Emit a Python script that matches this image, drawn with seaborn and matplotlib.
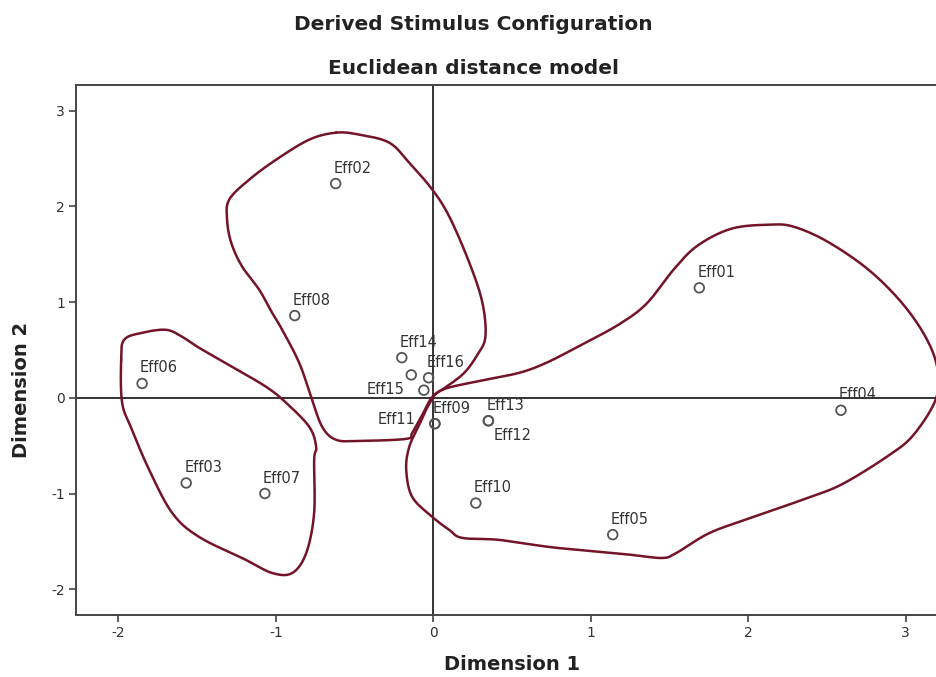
import numpy as np
import pandas as pd
import matplotlib
matplotlib.use("Agg")
import matplotlib.pyplot as plt
import seaborn as sns

# stimulus coordinates (Euclidean MDS solution)
stimuli = ["Eff01", "Eff02", "Eff03", "Eff04", "Eff05", "Eff06", "Eff07", "Eff08",
           "Eff09", "Eff10", "Eff11", "Eff12", "Eff13", "Eff14", "Eff15", "Eff16"]
dim1 = [1.69, -0.62, -1.57, 2.59, 1.14, -1.85, -1.07, -0.88,
        0.01, 0.27, 0.01, 0.35, 0.35, -0.20, -0.06, -0.03]
dim2 = [1.15, 2.24, -0.89, -0.13, -1.43, 0.15, -1.00, 0.86,
        -0.27, -1.10, -0.27, -0.24, -0.24, 0.42, 0.08, 0.21]
# one point in the plot carries no visible label
unlabeled_dim1 = [-0.14]
unlabeled_dim2 = [0.24]

# hand drawn cluster outlines (data coordinates)
group_a_x = [-1.983, -1.964, -1.850, -1.697, -1.596, -1.488, -1.278, -1.062, -0.935, -0.788,
             -0.744, -0.757, -0.757, -0.807, -0.896, -1.024, -1.189, -1.488, -1.659, -1.805,
             -1.914, -1.977]
group_a_y = [0.397, 0.607, 0.680, 0.711, 0.638, 0.523, 0.324, 0.115, -0.052, -0.303,
             -0.513, -0.649, -1.203, -1.621, -1.831, -1.831, -1.695, -1.454, -1.203, -0.753,
             -0.335, -0.052]

group_b_x = [-0.617, -0.470, -0.280, -0.153, -0.006, 0.102, 0.229, 0.312, 0.331, 0.280,
             0.197, 0.083, -0.006, -0.070, -0.134, -0.172, -0.470, -0.617, -0.706, -0.776,
             -0.852, -0.960, -1.024, -1.106, -1.214, -1.284, -1.310, -1.297, -1.170, -0.998,
             -0.788]
group_b_y = [2.772, 2.751, 2.667, 2.458, 2.176, 1.893, 1.412, 0.994, 0.638, 0.450,
             0.262, 0.115, 0.010, -0.178, -0.366, -0.429, -0.450, -0.439, -0.303, 0.010,
             0.366, 0.711, 0.889, 1.130, 1.370, 1.621, 1.862, 2.071, 2.280, 2.490,
             2.699]

group_c_x = [0.057, 0.331, 0.547, 0.718, 0.941, 1.176, 1.354, 1.526, 1.678, 1.894,
             2.136, 2.289, 2.505, 2.765, 2.982, 3.134, 3.204, 3.191, 3.051, 2.899,
             2.613, 2.397, 1.958, 1.742, 1.545, 1.456, 1.265, 1.055, 0.737, 0.420,
             0.184, 0.102, -0.006, -0.134, -0.172, -0.153, -0.089, -0.025]
group_c_y = [0.084, 0.188, 0.262, 0.366, 0.554, 0.764, 0.983, 1.339, 1.590, 1.768,
             1.810, 1.789, 1.632, 1.339, 0.983, 0.617, 0.293, -0.021, -0.387, -0.596,
             -0.889, -1.036, -1.287, -1.423, -1.621, -1.674, -1.642, -1.611, -1.559, -1.485,
             -1.464, -1.381, -1.245, -1.036, -0.753, -0.513, -0.282, -0.063]

tick_values = [-2, -1, 0, 1, 2, 3]

# label placement (pixel offsets) where SPSS moved a label off its default spot
label_spots = {"Eff11": ("right", -19, 0), "Eff15": ("right", -19, -4),
               "Eff12": ("left", 5, -19)}
default_spot = ("left", -2, 11)


def smooth_closed(xs, ys, n=16):
    # periodic catmull-rom through the traced vertices
    p = np.column_stack([xs, ys])
    m = len(p)
    out = []
    t = np.linspace(0, 1, n, endpoint=False)[:, None]
    for i in range(m):
        p0, p1, p2, p3 = p[i - 1], p[i], p[(i + 1) % m], p[(i + 2) % m]
        seg = 0.5 * ((2 * p1) + (-p0 + p2) * t + (2 * p0 - 5 * p1 + 4 * p2 - p3) * t ** 2
                     + (-p0 + 3 * p1 - 3 * p2 + p3) * t ** 3)
        out.append(seg)
    out.append(p[:1])
    out = np.vstack(out)
    return pd.DataFrame({"x": out[:, 0], "y": out[:, 1]})


sns.set_theme(style="ticks")
plt.rcParams["font.family"] = ["DejaVu Sans"]
plt.rcParams["axes.unicode_minus"] = False

df = pd.DataFrame({"name": stimuli, "dim1": dim1, "dim2": dim2})
extra = pd.DataFrame({"dim1": unlabeled_dim1, "dim2": unlabeled_dim2})

fig = plt.figure(figsize=(9.37, 6.77), dpi=100)
ax = fig.add_axes([76 / 937, 62 / 677, 872 / 937, 530 / 677])

ax.axhline(0, color="#333333", lw=1.4, zorder=1)
ax.axvline(0, color="#333333", lw=1.4, zorder=1)

outline = "#741428"
for gx, gy in [(group_a_x, group_a_y), (group_b_x, group_b_y), (group_c_x, group_c_y)]:
    sm = smooth_closed(gx, gy)
    sns.lineplot(data=sm, x="x", y="y", sort=False, estimator=None,
                 color=outline, lw=1.8, ax=ax, zorder=3)

pts = pd.concat([df[["dim1", "dim2"]], extra], ignore_index=True)
sns.scatterplot(data=pts, x="dim1", y="dim2", ax=ax, s=48, marker="o",
                facecolor="none", edgecolor="#555555", linewidth=1.3, zorder=4)

for _, row in df.iterrows():
    ha, dx, dy = label_spots.get(row["name"], default_spot)
    ax.annotate(row["name"], (row["dim1"], row["dim2"]), xytext=(dx, dy),
                textcoords="offset pixels", ha=ha, va="baseline",
                fontsize=10.5, color="#333333", zorder=5)

ax.set_xlim(-2.27, 3.27)
ax.set_ylim(-2.27, 3.27)
ax.set_xticks(tick_values)
ax.set_yticks(tick_values)
ax.tick_params(direction="out", length=5, width=1.2, color="#444444",
               labelsize=10, labelcolor="#333333", pad=3)
for sp in ax.spines.values():
    sp.set_color("#444444")
    sp.set_linewidth(1.4)

ax.set_xlabel("Dimension 1", fontsize=14, fontweight="bold", color="#222222",
              va="center")
ax.xaxis.set_label_coords(0.5, -50 / 530)
ax.set_ylabel("Dimension 2", fontsize=14, fontweight="bold", color="#222222",
              va="center", ha="center")
ax.yaxis.set_label_coords(-54 / 872, 225 / 530)

fig.text(473 / 937, 1 - 25 / 677, "Derived Stimulus Configuration", ha="center",
         va="center", fontsize=14.5, fontweight="bold", color="#222222")
fig.text(473 / 937, 1 - 68 / 677, "Euclidean distance model", ha="center",
         va="center", fontsize=14.5, fontweight="bold", color="#222222")

fig.savefig("out.png", dpi=100)
